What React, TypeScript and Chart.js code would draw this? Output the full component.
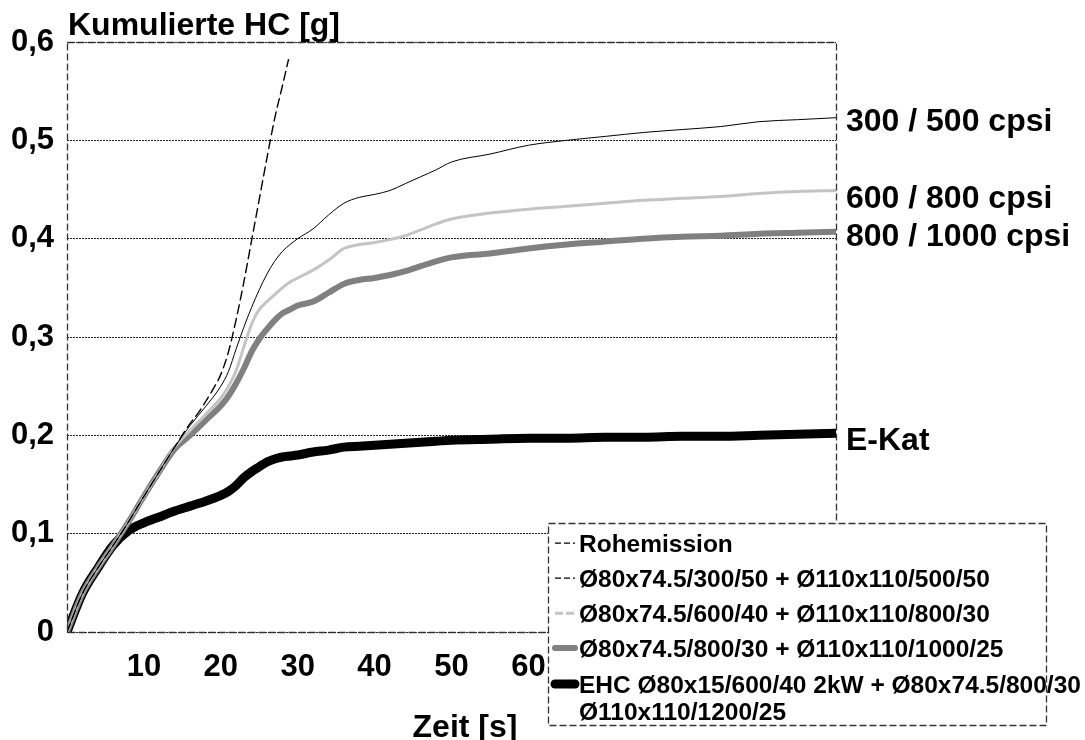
import React, { useEffect, useRef } from 'react';
import { Chart, registerables } from 'chart.js';

Chart.register(...registerables);

// ---- data ----
const timeRoh = [0, 2, 4, 6, 8, 10, 12, 14, 16, 17, 18, 19, 20, 21, 22, 23, 24, 25, 26, 27, 28, 28.8];
const hcRoh = [0, 0.039, 0.065, 0.088, 0.112, 0.138, 0.163, 0.188, 0.212, 0.222, 0.234, 0.247, 0.262, 0.285, 0.318, 0.356, 0.398, 0.44, 0.482, 0.522, 0.555, 0.582];

const timeCat = [0, 2, 4, 6, 8, 10, 12, 14, 16, 18, 20, 21, 22, 23, 24, 25, 26, 27, 28, 29, 30, 32, 34, 36, 38, 40, 42, 44, 46, 48, 50, 55, 60, 65, 70, 75, 80, 85, 90, 95, 100];
const hc300 = [0, 0.039, 0.065, 0.088, 0.112, 0.138, 0.163, 0.188, 0.21, 0.229, 0.25, 0.265, 0.288, 0.31, 0.33, 0.348, 0.364, 0.377, 0.387, 0.394, 0.4, 0.41, 0.424, 0.436, 0.442, 0.445, 0.449, 0.456, 0.463, 0.47, 0.478, 0.486, 0.495, 0.5, 0.504, 0.508, 0.511, 0.514, 0.519, 0.521, 0.523];
const hc600 = [0, 0.039, 0.065, 0.088, 0.112, 0.138, 0.163, 0.188, 0.205, 0.221, 0.238, 0.25, 0.266, 0.29, 0.313, 0.328, 0.336, 0.343, 0.35, 0.356, 0.36, 0.368, 0.378, 0.39, 0.394, 0.396, 0.399, 0.403, 0.409, 0.415, 0.42, 0.426, 0.43, 0.433, 0.436, 0.439, 0.441, 0.443, 0.446, 0.448, 0.449];
const hc800 = [0, 0.039, 0.065, 0.088, 0.112, 0.138, 0.163, 0.186, 0.2, 0.215, 0.23, 0.24, 0.253, 0.268, 0.285, 0.298, 0.308, 0.317, 0.324, 0.328, 0.332, 0.336, 0.345, 0.354, 0.358, 0.36, 0.363, 0.367, 0.372, 0.377, 0.381, 0.385, 0.39, 0.394, 0.397, 0.4, 0.402, 0.403, 0.405, 0.406, 0.407];
const hcEHC = [0, 0.039, 0.065, 0.088, 0.103, 0.111, 0.117, 0.123, 0.128, 0.133, 0.139, 0.143, 0.149, 0.157, 0.163, 0.168, 0.173, 0.176, 0.178, 0.179, 0.18, 0.183, 0.185, 0.188, 0.189, 0.19, 0.191, 0.192, 0.193, 0.194, 0.195, 0.196, 0.197, 0.197, 0.198, 0.198, 0.199, 0.199, 0.2, 0.201, 0.202];

const seriesNames = [
  'Rohemission',
  'Ø80x74.5/300/50 + Ø110x110/500/50',
  'Ø80x74.5/600/40 + Ø110x110/800/30',
  'Ø80x74.5/800/30 + Ø110x110/1000/25',
  'EHC Ø80x15/600/40 2kW + Ø80x74.5/800/30',
];
const legendExtraLine = 'Ø110x110/1200/25';
const endLabels = ['300 / 500 cpsi', '600 / 800 cpsi', '800 / 1000 cpsi', 'E-Kat'];
const endLabelOffsets = [13.5, 17.4, 14, 16.6];
const yTitle = 'Kumulierte HC [g]';
const xTitle = 'Zeit [s]';

const FONT = '"Liberation Sans", Arial, Helvetica, sans-serif';

const styles = [
  { color: '#000000', width: 1.4, dash: [9, 5], legendDash: [6, 3], legendWidth: 1.2 },
  { color: '#000000', width: 1, dash: [], legendDash: [6, 3], legendWidth: 1.2 },
  { color: '#c4c4c4', width: 3, dash: [], legendDash: [8, 3], legendWidth: 3 },
  { color: '#808080', width: 6, dash: [], legendDash: [], legendWidth: 6 },
  { color: '#000000', width: 9, dash: [], legendDash: [], legendWidth: 9 },
];

function pts(t: number[], v: number[]) {
  return t.map((x, i) => ({ x, y: v[i] }));
}

const overlayPlugin = {
  id: 'overlay',
  beforeDraw(chart: any) {
    const { ctx, width, height } = chart;
    ctx.save();
    ctx.fillStyle = '#ffffff';
    ctx.fillRect(0, 0, width, height);
    ctx.restore();
  },
  afterDatasetsDraw(chart: any) {
    const { ctx, chartArea } = chart;
    ctx.save();
    ctx.strokeStyle = '#333333';
    ctx.lineWidth = 1.3;
    ctx.setLineDash([7, 3]);
    ctx.strokeRect(Math.round(chartArea.left) + 0.5, Math.round(chartArea.top) + 0.5,
      Math.round(chartArea.right - chartArea.left), Math.round(chartArea.bottom - chartArea.top));
    ctx.restore();
  },
  afterDraw(chart: any) {
    const { ctx, chartArea, scales } = chart;
    const ys = scales.y;
    ctx.save();
    ctx.fillStyle = '#000';
    ctx.textBaseline = 'alphabetic';
    // axis titles
    ctx.font = `bold 32px ${FONT}`;
    ctx.textAlign = 'left';
    ctx.fillText(yTitle, chartArea.left + 1, 35);
    ctx.textAlign = 'center';
    ctx.fillText(xTitle, 465, 737);
    // end labels
    ctx.font = `bold 32px ${FONT}`;
    ctx.textAlign = 'left';
    const ends = [hc300, hc600, hc800, hcEHC];
    ends.forEach((arr, i) => {
      const y = ys.getPixelForValue(arr[arr.length - 1]) + endLabelOffsets[i];
      ctx.fillText(endLabels[i], chartArea.right + 10, y);
    });
    // legend box
    const lx = 548.5, ly = 523.5, lw = 498, lh = 202;
    ctx.fillStyle = '#ffffff';
    ctx.fillRect(lx, ly, lw, lh);
    const baselines = [551.7, 586.7, 621.7, 656.5, 692.5];
    ctx.font = `bold 24.5px ${FONT}`;
    ctx.textAlign = 'left';
    seriesNames.forEach((name, i) => {
      const st = styles[i];
      const cy = baselines[i] - 8.5;
      ctx.save();
      ctx.strokeStyle = st.color;
      ctx.lineWidth = st.legendWidth;
      ctx.setLineDash(st.legendDash);
      ctx.lineCap = i >= 3 ? 'round' : 'butt';
      ctx.beginPath();
      ctx.moveTo(555, cy);
      ctx.lineTo(575, cy);
      ctx.stroke();
      ctx.restore();
      ctx.fillStyle = '#000';
      ctx.fillText(name, 579, baselines[i]);
    });
    ctx.fillText(legendExtraLine, 579, 720);
    ctx.strokeStyle = '#333333';
    ctx.lineWidth = 1.3;
    ctx.setLineDash([7, 3]);
    ctx.strokeRect(lx, ly, lw, lh);
    ctx.restore();
  },
};

export default function App() {
  const ref = useRef<HTMLCanvasElement | null>(null);
  useEffect(() => {
    if (!ref.current) return;
    const seriesData = [
      pts(timeRoh, hcRoh),
      pts(timeCat, hc300),
      pts(timeCat, hc600),
      pts(timeCat, hc800),
      pts(timeCat, hcEHC),
    ];
    const chart = new Chart(ref.current, {
      type: 'line',
      data: {
        datasets: seriesData.map((d, i) => ({
          label: seriesNames[i],
          data: d,
          borderColor: styles[i].color,
          backgroundColor: styles[i].color,
          borderWidth: styles[i].width,
          borderDash: styles[i].dash,
          pointRadius: 0,
          fill: false,
          cubicInterpolationMode: 'monotone' as const,
          borderCapStyle: 'round' as const,
          borderJoinStyle: 'round' as const,
        })),
      },
      options: {
        responsive: false,
        animation: false,
        devicePixelRatio: 1,
        layout: { padding: { top: 42, right: 249, left: 0, bottom: 0 } },
        plugins: { legend: { display: false }, tooltip: { enabled: false } },
        scales: {
          x: {
            type: 'linear',
            min: 0,
            max: 100,
            grid: { display: false, drawTicks: false },
            border: { display: false },
            ticks: {
              stepSize: 10,
              padding: 17,
              color: '#000',
              font: { family: FONT, size: 31, weight: 'bold' },
              callback: (v: any) => (Number(v) === 0 ? '' : String(v)),
              maxRotation: 0,
              autoSkip: false,
            },
            afterFit: (scale: any) => { scale.height = 740 - 632; },
          },
          y: {
            type: 'linear',
            min: 0,
            max: 0.6,
            grid: { display: true, color: '#222222', lineWidth: 1, drawTicks: false },
            border: { display: false, dash: [2, 1] },
            ticks: {
              stepSize: 0.1,
              padding: 13,
              color: '#000',
              font: { family: FONT, size: 31, weight: 'bold' },
              callback: (v: any) => (Number(v) === 0 ? '0' : Number(v).toFixed(1).replace('.', ',')),
            },
            afterFit: (scale: any) => { scale.width = 67; },
          },
        },
      } as any,
      plugins: [overlayPlugin],
    });
    return () => chart.destroy();
  }, []);
  return (
    <div style={{ position: 'absolute', left: 0, top: 0, width: 1085, height: 740 }}>
      <canvas ref={ref} width={1085} height={740} style={{ width: 1085, height: 740 }} />
    </div>
  );
}
